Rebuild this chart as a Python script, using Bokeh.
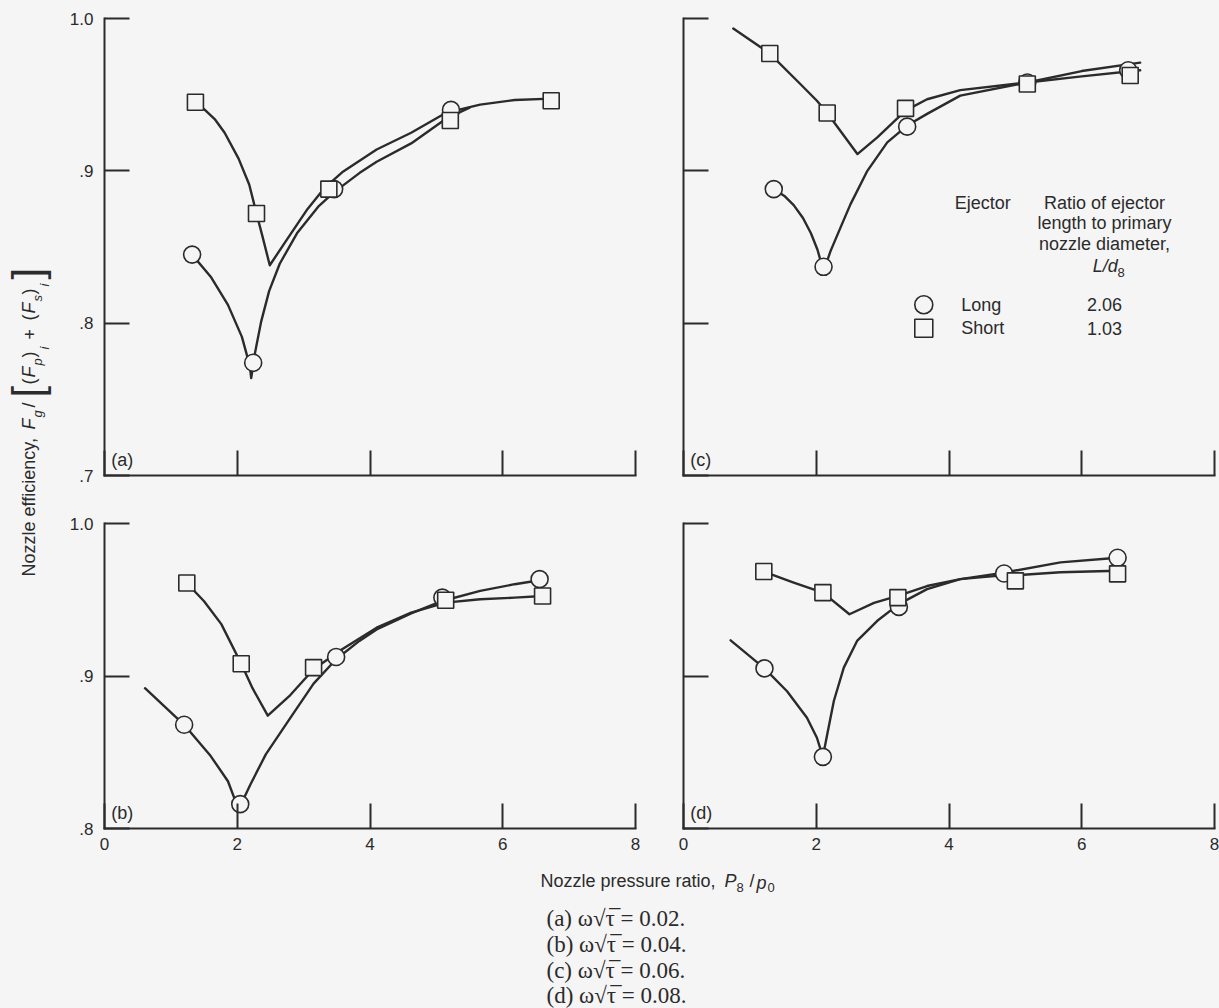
import math
from bokeh.plotting import figure
from bokeh.layouts import row, column
from bokeh.models import Range1d, FixedTicker, CustomJSTickFormatter
from bokeh.embed import file_html
from bokeh.resources import INLINE
from bokeh.core.properties import value

# ---------------- data ----------------
x_ticks = [0, 2, 4, 6, 8]
y_ticks_top = [0.7, 0.8, 0.9, 1.0]
y_ticks_bottom = [0.8, 0.9, 1.0]

# (a) omega*sqrt(tau) = 0.02
a_short_x = [1.37, 2.29, 3.38, 5.21, 6.73]
a_short_y = [0.945, 0.872, 0.888, 0.933, 0.946]
a_long_x = [1.32, 2.24, 3.46, 5.22]
a_long_y = [0.845, 0.774, 0.888, 0.940]
a_short_fit_x = [1.37, 1.50, 1.66, 1.81, 2.02, 2.18, 2.29, 2.38, 2.49, 2.75, 3.06, 3.32, 3.58, 4.10, 4.62, 5.14, 5.66, 6.18, 6.73]
a_short_fit_y = [0.945, 0.9405, 0.934, 0.925, 0.908, 0.891, 0.872, 0.857, 0.838, 0.855, 0.875, 0.889, 0.899, 0.914, 0.925, 0.938, 0.9435, 0.9465, 0.9474]
a_long_fit_x = [1.32, 1.60, 1.86, 2.07, 2.19, 2.21, 2.27, 2.36, 2.48, 2.64, 2.90, 3.22, 3.46, 3.84, 4.10, 4.62, 5.14, 5.50]
a_long_fit_y = [0.845, 0.8305, 0.812, 0.791, 0.772, 0.764, 0.781, 0.801, 0.821, 0.839, 0.859, 0.8765, 0.886, 0.8985, 0.906, 0.918, 0.934, 0.9415]

# (b) omega*sqrt(tau) = 0.04
b_short_x = [1.24, 2.06, 3.15, 5.14, 6.60]
b_short_y = [0.961, 0.908, 0.9055, 0.9497, 0.9525]
b_long_x = [1.20, 2.045, 3.49, 5.09, 6.555]
b_long_y = [0.868, 0.816, 0.9125, 0.9514, 0.9635]
b_short_fit_x = [1.24, 1.50, 1.76, 2.06, 2.23, 2.46, 2.80, 3.15, 3.58, 4.10, 4.62, 5.14, 5.66, 6.18, 6.60]
b_short_fit_y = [0.961, 0.949, 0.934, 0.908, 0.892, 0.874, 0.8875, 0.9044, 0.9175, 0.9317, 0.9416, 0.9481, 0.9503, 0.9514, 0.9525]
b_long_fit_x = [0.61, 1.20, 1.60, 1.86, 2.02, 2.20, 2.43, 2.80, 3.15, 3.49, 3.84, 4.10, 4.62, 5.09, 5.66, 6.18, 6.555]
b_long_fit_y = [0.892, 0.868, 0.8475, 0.831, 0.8125, 0.829, 0.8486, 0.8725, 0.895, 0.911, 0.923, 0.9305, 0.9410, 0.9492, 0.9558, 0.9602, 0.9628]

# (c) omega*sqrt(tau) = 0.06
c_short_x = [1.30, 2.165, 3.345, 5.18, 6.73]
c_short_y = [0.977, 0.938, 0.941, 0.957, 0.9626]
c_long_x = [1.36, 2.11, 3.37, 5.18, 6.70]
c_long_y = [0.888, 0.837, 0.929, 0.958, 0.966]
c_short_fit_x = [0.75, 1.30, 1.76, 2.01, 2.165, 2.62, 2.92, 3.345, 3.67, 4.17, 5.18, 6.00, 6.88]
c_short_fit_y = [0.9934, 0.977, 0.957, 0.946, 0.938, 0.911, 0.922, 0.9395, 0.947, 0.953, 0.958, 0.962, 0.966]
c_long_fit_x = [1.36, 1.52, 1.66, 1.80, 1.92, 2.02, 2.11, 2.215, 2.365, 2.515, 2.77, 3.07, 3.37, 3.67, 4.17, 5.18, 6.00, 6.88]
c_long_fit_y = [0.888, 0.8835, 0.8775, 0.869, 0.859, 0.848, 0.834, 0.8473, 0.8627, 0.878, 0.900, 0.9187, 0.9297, 0.9374, 0.9494, 0.958, 0.9655, 0.971]

# (d) omega*sqrt(tau) = 0.08
d_short_x = [1.21, 2.10, 3.23, 5.00, 6.54]
d_short_y = [0.9685, 0.9547, 0.9514, 0.9624, 0.967]
d_long_x = [1.22, 2.10, 3.245, 4.83, 6.54]
d_long_y = [0.905, 0.847, 0.9453, 0.9672, 0.9775]
d_short_fit_x = [1.21, 1.66, 2.10, 2.50, 2.87, 3.23, 3.67, 4.17, 4.68, 5.00, 5.68, 6.54]
d_short_fit_y = [0.9685, 0.9613, 0.9547, 0.9405, 0.948, 0.9525, 0.959, 0.9635, 0.9655, 0.9660, 0.968, 0.969]
d_long_fit_x = [0.71, 1.22, 1.56, 1.86, 2.01, 2.10, 2.165, 2.265, 2.415, 2.615, 2.92, 3.245, 3.67, 4.17, 4.83, 5.68, 6.54]
d_long_fit_y = [0.9234, 0.905, 0.890, 0.8726, 0.8595, 0.847, 0.8617, 0.8836, 0.9055, 0.923, 0.9362, 0.9471, 0.957, 0.9635, 0.9678, 0.9745, 0.9775]

legend_names = ["Long", "Short"]
legend_ratios = ["2.06", "1.03"]
legend_header = ["Ratio of ejector", "length to primary", "nozzle diameter,"]
captions = ["(a) \u03c9\u221a\u03c4\u0305 = 0.02.", "(b) \u03c9\u221a\u03c4\u0305 = 0.04.",
            "(c) \u03c9\u221a\u03c4\u0305 = 0.06.", "(d) \u03c9\u221a\u03c4\u0305 = 0.08."]

# ---------------- style ----------------
INK = "#2b2b2b"
BG = "#f5f5f5"
SANS = "Liberation Sans"
SERIF = "Liberation Serif"
FW = 531
PAGE_H = 1008


def make_panel(ymin, frame_h, bl, br, bt, bb, yticks, show_y, show_x, tag):
    p = figure(frame_width=FW, frame_height=frame_h,
               x_range=Range1d(0, 8), y_range=Range1d(ymin, 1.0),
               output_backend="svg", toolbar_location=None,
               min_border_left=bl, min_border_right=br,
               min_border_top=bt, min_border_bottom=bb)
    p.background_fill_color = BG
    p.border_fill_color = BG
    p.outline_line_color = None
    p.xgrid.visible = False
    p.ygrid.visible = False
    for ax in (p.xaxis[0], p.yaxis[0]):
        ax.axis_line_color = INK
        ax.axis_line_width = 2
        ax.axis_line_cap = "square"
        ax.major_tick_line_color = INK
        ax.major_tick_line_width = 2
        ax.major_tick_in = 25
        ax.major_tick_out = 0
        ax.minor_tick_line_color = None
        ax.major_label_text_font = SANS
        ax.major_label_text_color = INK
        ax.major_label_text_font_size = "17px"
    p.xaxis.ticker = FixedTicker(ticks=x_ticks)
    p.yaxis.ticker = FixedTicker(ticks=yticks)
    if show_y:
        p.yaxis.formatter = CustomJSTickFormatter(
            code="return tick > 0.95 ? tick.toFixed(1) : tick.toFixed(1).substring(1);")
        p.yaxis.major_label_standoff = 11
    else:
        p.yaxis.formatter = CustomJSTickFormatter(code="return '';")
        p.yaxis.major_label_text_font_size = "0px"
        p.yaxis.major_label_standoff = 0
    if show_x:
        p.xaxis.formatter = CustomJSTickFormatter(code="return tick.toFixed(0);")
        p.xaxis.major_label_standoff = 9
    else:
        p.xaxis.formatter = CustomJSTickFormatter(code="return '';")
        p.xaxis.major_label_text_font_size = "0px"
        p.xaxis.major_label_standoff = 0
    p.text(x=[0.1], y=[ymin + 0.0104], text=[tag], text_font=value(SANS),
           text_font_size="18px", text_color=INK, text_baseline="middle")
    return p


def add_points(p, pts_x, pts_y, marker, size):
    p.scatter(pts_x, pts_y, marker=marker, size=size, fill_color=BG,
              line_color=INK, line_width=1.6)


pa = make_panel(0.7, 457, 44, 10, 18, 10, y_ticks_top, True, False, "(a)")
pc = make_panel(0.7, 457, 38, 5, 18, 10, y_ticks_top, False, False, "(c)")
pb = make_panel(0.8, 305, 44, 10, 38, 35, y_ticks_bottom, True, True, "(b)")
pd = make_panel(0.8, 305, 38, 5, 38, 35, y_ticks_bottom, False, True, "(d)")

panels = [
    (pa, a_short_fit_x, a_short_fit_y, a_long_fit_x, a_long_fit_y, a_short_x, a_short_y, a_long_x, a_long_y),
    (pb, b_short_fit_x, b_short_fit_y, b_long_fit_x, b_long_fit_y, b_short_x, b_short_y, b_long_x, b_long_y),
    (pc, c_short_fit_x, c_short_fit_y, c_long_fit_x, c_long_fit_y, c_short_x, c_short_y, c_long_x, c_long_y),
    (pd, d_short_fit_x, d_short_fit_y, d_long_fit_x, d_long_fit_y, d_short_x, d_short_y, d_long_x, d_long_y),
]
for p, sfx, sfy, lfx, lfy, sx, sy, lx, ly in panels:
    p.line(sfx, sfy, line_color=INK, line_width=2.4, line_join="round", line_cap="round")
    p.line(lfx, lfy, line_color=INK, line_width=2.4, line_join="round", line_cap="round")
    add_points(p, lx, ly, "circle", 17)
    add_points(p, sx, sy, "square", 16)

# legend inside panel (c)
leg_font = value(SANS)
pc.text(x=[4.087], y=[0.8791], text=["Ejector"], text_font=leg_font, text_font_size="18px",
        text_color=INK, text_baseline="middle", text_align="left")
pc.text(x=[6.343, 6.343, 6.343], y=[0.8791, 0.8659, 0.8521], text=legend_header,
        text_font=leg_font, text_font_size="18px", text_color=INK,
        text_baseline="middle", text_align="center")
pc.text(x=[6.165], y=[0.8374], text=["L/d"], text_font=leg_font, text_font_size="18px",
        text_font_style="italic", text_color=INK, text_baseline="middle", text_align="left")
pc.text(x=[6.54], y=[0.8335], text=["8"], text_font=leg_font, text_font_size="13px",
        text_color=INK, text_baseline="middle", text_align="left")
add_points(pc, [3.62], [0.8121], "circle", 18)
add_points(pc, [3.62], [0.7967], "square", 18)
pc.text(x=[4.184, 4.184], y=[0.8121, 0.7967], text=legend_names, text_font=leg_font,
        text_font_size="18px", text_color=INK, text_baseline="middle", text_align="left")
pc.text(x=[6.343, 6.343], y=[0.8121, 0.7967], text=legend_ratios, text_font=leg_font,
        text_font_size="18px", text_color=INK, text_baseline="middle", text_align="center")

# ---------------- y-axis title strip (coordinates: page pixels, y measured up) ----------------
yf = figure(width=60, height=PAGE_H, x_range=Range1d(0, 60), y_range=Range1d(0, PAGE_H),
            output_backend="svg", toolbar_location=None,
            x_axis_type=None, y_axis_type=None, min_border=0)
yf.background_fill_color = BG
yf.border_fill_color = BG
yf.outline_line_color = None
# (text, page y where the piece starts, x centre, size, style)
ylab_pieces = [
    ("Nozzle efficiency,", 576, 28.5, "18px", "normal"),
    ("F", 429, 28.5, "18px", "italic"),
    ("g", 417, 36.5, "13px", "italic"),
    ("/", 407, 28.5, "18px", "normal"),
    ("[", 397, 27, "42px", "normal"),
    ("(", 384, 28.5, "18px", "normal"),
    ("F", 377, 28.5, "18px", "italic"),
    ("p", 365, 36.5, "13px", "italic"),
    (")", 357, 28.5, "18px", "normal"),
    ("i", 349, 44, "13px", "italic"),
    ("+", 339, 28.5, "18px", "normal"),
    ("(", 320, 28.5, "18px", "normal"),
    ("F", 313, 28.5, "18px", "italic"),
    ("s", 301, 36.5, "13px", "italic"),
    (")", 294, 28.5, "18px", "normal"),
    ("i", 286, 44, "13px", "italic"),
    ("]", 279, 27, "42px", "normal"),
]
for txt, ys, xc, fs, st in ylab_pieces:
    yf.text(x=[xc], y=[PAGE_H - ys], text=[txt], angle=math.pi / 2, text_font=value(SANS),
            text_font_size=fs, text_font_style=st, text_color=INK,
            text_align="left", text_baseline="middle")

# ---------------- x-axis title and caption strip (page pixel coordinates, y up) ----------------
cf = figure(width=1159, height=145, x_range=Range1d(60, 1219), y_range=Range1d(0, 145),
            output_backend="svg", toolbar_location=None,
            x_axis_type=None, y_axis_type=None, min_border=0)
cf.background_fill_color = BG
cf.border_fill_color = BG
cf.outline_line_color = None
# (text, page x start, page y centre, size, style)
xlab_pieces = [
    ("Nozzle pressure ratio,", 540, 880, "18px", "normal"),
    ("P", 724, 880, "18px", "italic"),
    ("8", 736, 887, "13px", "normal"),
    ("/", 749, 880, "18px", "normal"),
    ("p", 756, 882, "18px", "italic"),
    ("0", 767, 887, "13px", "normal"),
]
for txt, xs, yc, fs, st in xlab_pieces:
    cf.text(x=[xs], y=[PAGE_H - yc], text=[txt], text_font=value(SANS), text_font_size=fs,
            text_font_style=st, text_color=INK, text_align="left", text_baseline="middle")
cap_centre = [918, 944, 970, 995]
cf.text(x=[546] * 4, y=[PAGE_H - c for c in cap_centre], text=captions, text_font=value(SERIF),
        text_font_size="23px", text_color=INK, text_align="left", text_baseline="middle")

bgstyle = {"background-color": BG}
layout = row(yf, column(row(pa, pc, styles=bgstyle), row(pb, pd, styles=bgstyle), cf, styles=bgstyle),
             styles=bgstyle)
open("out.html", "w").write(file_html(layout, INLINE))
